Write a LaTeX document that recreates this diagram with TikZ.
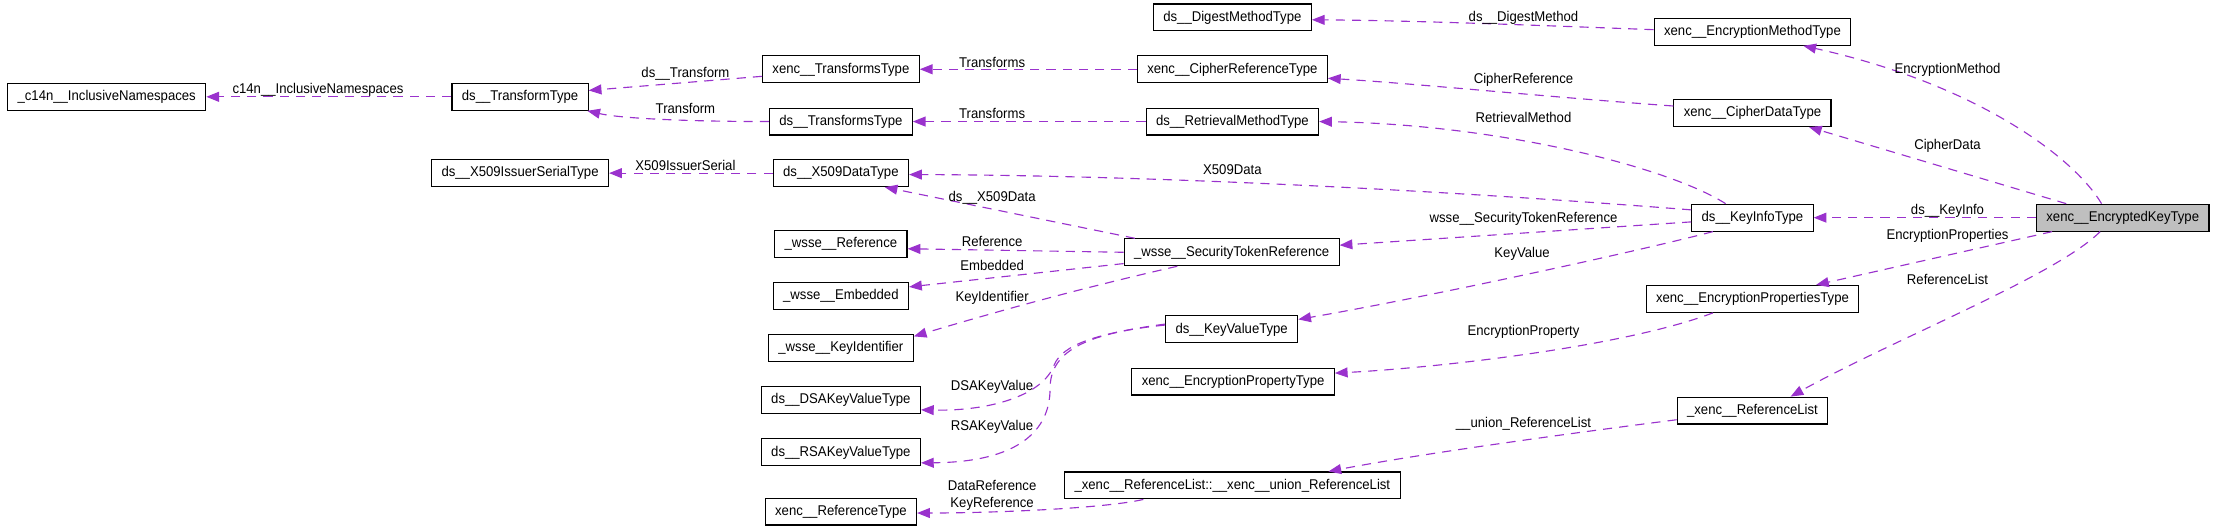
\documentclass[tikz,border=0pt]{standalone}
\usepackage{fontspec}
\setmainfont{Liberation Sans}[FakeStretch=0.93]
\usepackage{tikz}
\usetikzlibrary{arrows.meta}
\definecolor{orchid}{RGB}{154,50,205}
\tikzset{
  cls/.style={
    draw, rectangle, line width=0.8pt, fill=white,
    minimum height=19pt, inner xsep=7pt, inner ysep=0pt,
    text height=7.3pt, text depth=2pt,
    font=\fontsize{10}{11}\selectfont
  },
  maincls/.style={cls, fill=black!25},
  lbl/.style={
    inner sep=0pt, text height=7.3pt, text depth=2pt,
    font=\fontsize{10}{11}\selectfont
  },
  lbltwo/.style={inner sep=0pt, align=center, font=\fontsize{10}{11.5}\selectfont},
  uses/.style={-{Triangle[length=9pt,width=7pt]}, orchid, line width=0.8pt,
    dash pattern=on 6.5pt off 5pt},
}

\begin{document}
\begin{tikzpicture}[x=1pt,y=-1pt]
        \useasboundingbox (0,0) rectangle (1568,376);
        % classes
        \node[cls] (c14n) at (75.5,68.5) {\_c14n\_\_InclusiveNamespaces};
        \node[cls] (tft) at (368,68.5) {ds\_\_TransformType};
        \node[cls] (x509is) at (368,122.5) {ds\_\_X509IssuerSerialType};
        \node[cls] (xtt) at (595,49) {xenc\_\_TransformsType};
        \node[cls] (dtt) at (595,86) {ds\_\_TransformsType};
        \node[cls] (x509) at (595,122.5) {ds\_\_X509DataType};
        \node[cls] (wref) at (595,172.5) {\_wsse\_\_Reference};
        \node[cls] (wemb) at (595,209.5) {\_wsse\_\_Embedded};
        \node[cls] (wkid) at (595,246) {\_wsse\_\_KeyIdentifier};
        \node[cls] (dsa) at (595,283) {ds\_\_DSAKeyValueType};
        \node[cls] (rsa) at (595,320) {ds\_\_RSAKeyValueType};
        \node[cls] (reft) at (595,362) {xenc\_\_ReferenceType};
        \node[cls] (dmt) at (872,12.3) {ds\_\_DigestMethodType};
        \node[cls] (crt) at (872,49) {xenc\_\_CipherReferenceType};
        \node[cls] (rmt) at (872,86) {ds\_\_RetrievalMethodType};
        \node[cls] (str) at (871.5,178.5) {\_wsse\_\_SecurityTokenReference};
        \node[cls] (kvt) at (871.5,233) {ds\_\_KeyValueType};
        \node[cls] (ept) at (872.5,270) {xenc\_\_EncryptionPropertyType};
        \node[cls] (unrl) at (872,343.5) {\_xenc\_\_ReferenceList::\_\_xenc\_\_union\_ReferenceList};
        \node[cls] (emt) at (1240,22.5) {xenc\_\_EncryptionMethodType};
        \node[cls] (cdt) at (1240,80) {xenc\_\_CipherDataType};
        \node[cls] (kit) at (1240,154) {ds\_\_KeyInfoType};
        \node[cls] (epst) at (1240,211.5) {xenc\_\_EncryptionPropertiesType};
        \node[cls] (rlt) at (1240,290.5) {\_xenc\_\_ReferenceList};
        \node[maincls] (ekt) at (1502,154) {xenc\_\_EncryptedKeyType};
        % members
        \draw[uses] (tft.west) -- (c14n.east);
        \draw[uses] ([yshift=-5pt]xtt.west) -- ([yshift=4.5pt]tft.east);
        \draw[uses] (dtt.west) .. controls (490,86) and (440,84) .. ([xshift=-1pt]tft.south east);
        \draw[uses] (crt.west) -- (xtt.east);
        \draw[uses] (rmt.west) -- (dtt.east);
        \draw[uses] (x509.west) -- (x509is.east);
        \draw[uses] ([yshift=1.5pt]emt.west) .. controls (1090,18) and (1000,14.5) .. ([yshift=-1.7pt]dmt.east);
        \draw[uses] ([yshift=5pt]cdt.west) .. controls (1100,69) and (1000,59) .. ([yshift=-6.4pt]crt.east);
        \draw[uses] ([xshift=-19pt]kit.north) .. controls (1180,118) and (1060,88) .. (rmt.east);
        \draw[uses] ([yshift=5.5pt]kit.west) .. controls (1000,133) and (800,124) .. ([yshift=-1pt]x509.east);
        \draw[uses] ([yshift=-3pt]kit.west) -- ([yshift=5pt]str.east);
        \draw[uses] ([xshift=-28pt]kit.south) .. controls (1150,180) and (1000,212) .. ([yshift=7pt]kvt.east);
        \draw[uses] ([xshift=-68.5pt]str.north) -- ([xshift=31pt]x509.south);
        \draw[uses] (str.west) -- ([yshift=-3.5pt]wref.east);
        \draw[uses] ([yshift=-8pt]str.west) -- ([yshift=6.5pt]wemb.east);
        \draw[uses] ([xshift=-38.5pt]str.south) .. controls (760,205) and (700,222) .. ([yshift=8pt]wkid.east);
        \draw[uses] ([yshift=3.7pt]kvt.west) .. controls (775,236) and (752,244) .. (746,258)
          .. controls (738,280) and (700,291) .. ([yshift=-7pt]dsa.east);
        \draw[uses] ([yshift=3pt]kvt.west) .. controls (765,236) and (743,250) .. (743,275)
          .. controls (743,305) and (720,327) .. ([yshift=-7.5pt]rsa.east);
        \draw[uses] ([xshift=-28pt]epst.south) .. controls (1150,245) and (1020,260) .. ([yshift=6pt]ept.east);
        \draw[uses] ([yshift=-6.5pt]rlt.west) .. controls (1100,308) and (1000,322) .. ([xshift=68pt]unrl.north);
        \draw[uses] ([xshift=-63pt]unrl.south) .. controls (780,360) and (700,363) .. ([yshift=-1pt]reft.east);
        \draw[uses] ([xshift=-15pt]ekt.north) .. controls (1468,112) and (1400,60) .. ([xshift=36pt]emt.south);
        \draw[uses] ([xshift=-40pt]ekt.north) -- ([xshift=40pt]cdt.south);
        \draw[uses] (ekt.west) -- (kit.east);
        \draw[uses] ([xshift=-50pt]ekt.south) -- ([xshift=45pt]epst.north);
        \draw[uses] ([xshift=-16pt]ekt.south) .. controls (1455,195) and (1340,240) .. ([xshift=27pt]rlt.north);
        % member names
        \foreach \nm/\cx/\cy/\txt in
          {c14n/225/63.5/c14n\_\_InclusiveNamespaces, dstr/485/52/ds\_\_Transform,
           tr/485/78/Transform, iss/485/118/X509IssuerSerial,
           trsa/702/45/Transforms, trsb/702/81/Transforms,
           dig/1078/12.5/ds\_\_DigestMethod, cref/1078/56.6/CipherReference,
           ret/1078/84/RetrievalMethod, xd/872/121/X509Data,
           dsxd/702/140/ds\_\_X509Data, wstr/1078/155/wsse\_\_SecurityTokenReference,
           ref/702/172/Reference, emb/702/188.5/Embedded,
           kid/702/211/KeyIdentifier, kv/1077/179.5/KeyValue,
           dsakv/702/274/DSAKeyValue, rsakv/702/302/RSAKeyValue,
           eprop/1078/235/EncryptionProperty, unrl/1078/299.5/\_\_union\_ReferenceList,
           em/1378/49.5/EncryptionMethod, cd/1378/103/CipherData,
           ki/1378/149/ds\_\_KeyInfo, eprops/1378/166.5/EncryptionProperties,
           rl/1378/199/ReferenceList}{
          \node[lbl] (l\nm) at (\cx,\cy) {\txt};
        }
        \node[lbltwo] (lref) at (702,350.5) {DataReference\\KeyReference};
\end{tikzpicture}
\end{document}
